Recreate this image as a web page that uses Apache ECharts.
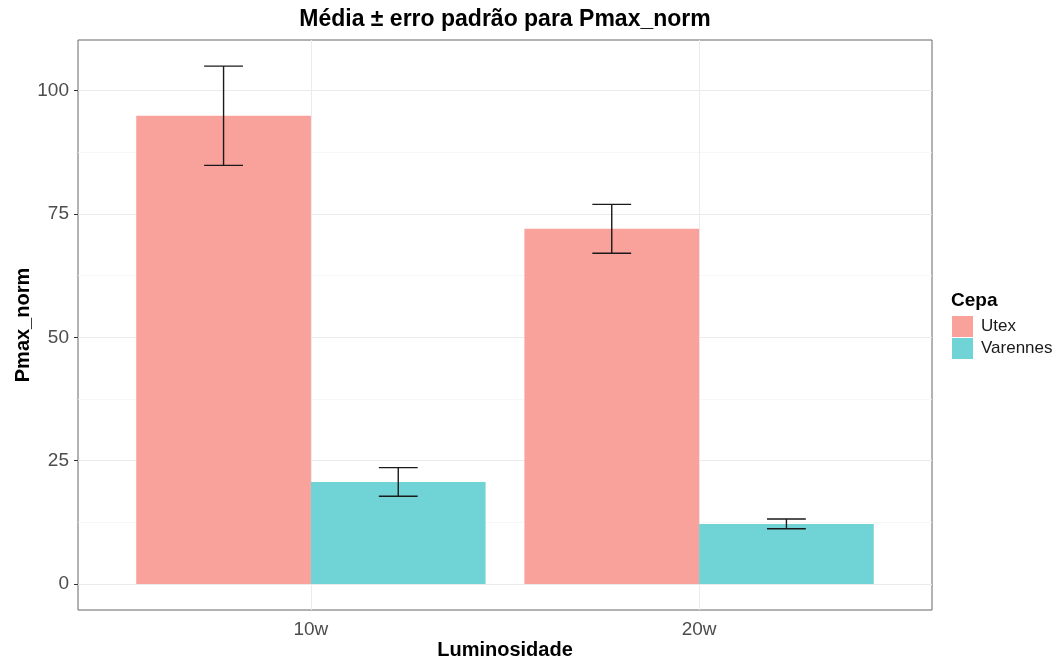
<!DOCTYPE html>
<html>
<head>
<meta charset="utf-8">
<script src="https://cdn.jsdelivr.net/npm/echarts@6/dist/echarts.min.js"></script>
<style>
  html, body { margin: 0; padding: 0; background: #fff; }
  #chart { width: 1060px; height: 661px; }
</style>
</head>
<body>
<div id="chart"></div>
<script>
// Luminosidade groups and Cepa (strain) series
const groups = ['10w', '20w'];
const cepas = ['Utex', 'Varennes'];
const utexMean = [94.9, 72.0];
const utexSe = [10.05, 4.95];
const varennesMean = [20.7, 12.2];
const varennesSe = [2.9, 1.0];
const yTicks = [0, 25, 50, 75, 100];
const yMinor = [12.5, 37.5, 62.5, 87.5];

const colors = { Utex: '#F9A19B', Varennes: '#70D3D6' };
const dodge = 0.225;   // half of dodge width 0.9
const capHalf = 0.05;
const font = 'Liberation Sans';

const chart = echarts.init(document.getElementById('chart'));

// bars are drawn from the axis scale, offset inside each group
const barItem = (offset) => (params, api) => {
  const x = api.value(0) + offset;
  const p1 = api.coord([x - dodge, api.value(1)]);
  const p2 = api.coord([x + dodge, 0]);
  return {
    type: 'rect',
    shape: { x: p1[0], y: p1[1], width: p2[0] - p1[0], height: p2[1] - p1[1] },
    style: { fill: api.visual('color') }
  };
};

const errItem = (offset) => (params, api) => {
  const x = api.value(0) + offset;
  const m = api.value(1), se = api.value(2);
  const top = api.coord([x, m + se]);
  const bot = api.coord([x, m - se]);
  const l = api.coord([x - capHalf, m])[0];
  const r = api.coord([x + capHalf, m])[0];
  const st = { stroke: '#1a1a1a', lineWidth: 1.4 };
  return {
    type: 'group',
    children: [
      { type: 'line', shape: { x1: top[0], y1: top[1], x2: bot[0], y2: bot[1] }, style: st },
      { type: 'line', shape: { x1: l, y1: top[1], x2: r, y2: top[1] }, style: st },
      { type: 'line', shape: { x1: l, y1: bot[1], x2: r, y2: bot[1] }, style: st }
    ]
  };
};

const gridLines = [
  ...yTicks.map(v => ({ yAxis: v, lineStyle: { color: '#ebebeb', width: 1, type: 'solid' } })),
  ...yMinor.map(v => ({ yAxis: v, lineStyle: { color: '#f3f3f3', width: 0.7, type: 'solid' } })),
  ...groups.map((g, i) => ({ xAxis: i + 1, lineStyle: { color: '#ebebeb', width: 1, type: 'solid' } }))
];

const option = {
  animation: false,
  title: [
    {
      text: 'Média ± erro padrão para Pmax_norm',
      left: 505, top: 8, padding: 0, textAlign: 'center',
      textStyle: { fontFamily: font, fontSize: 23, fontWeight: 'bold', color: '#000' }
    },
    {
      text: 'Cepa',
      left: 951, top: 291, padding: 0,
      textStyle: { fontFamily: font, fontSize: 19, fontWeight: 'bold', color: '#000' }
    }
  ],
  legend: {
    orient: 'vertical',
    left: 952, top: 316,
    padding: 0,
    itemWidth: 21, itemHeight: 21, itemGap: 1,
    data: cepas.map(c => ({ name: c, icon: 'rect' })),
    textStyle: { fontFamily: font, fontSize: 17, color: '#1a1a1a', padding: [0, 0, 0, 3] }
  },
  grid: {
    left: 78, right: 128, top: 40, bottom: 51,
    outerBoundsMode: 'none',
    show: true, borderColor: '#666', borderWidth: 1, backgroundColor: '#fff'
  },
  xAxis: {
    type: 'value',
    min: 0.4, max: 2.6,
    name: 'Luminosidade',
    nameLocation: 'middle', nameGap: 30,
    nameMoveOverlap: false,
    nameTextStyle: { fontFamily: font, fontSize: 20, fontWeight: 'bold', color: '#000' },
    axisLine: { show: false },
    splitLine: { show: false },
    axisTick: { show: true, length: 4, lineStyle: { color: '#333' }, customValues: groups.map((g, i) => i + 1) },
    axisLabel: {
      customValues: groups.map((g, i) => i + 1),
      formatter: v => groups[Math.round(v) - 1] || '',
      margin: 10,
      fontFamily: font, fontSize: 19, color: '#4d4d4d'
    }
  },
  yAxis: {
    type: 'value',
    min: -5.25, max: 110.25,
    name: 'Pmax_norm',
    nameLocation: 'middle', nameGap: 45,
    nameMoveOverlap: false,
    nameTextStyle: { fontFamily: font, fontSize: 20, fontWeight: 'bold', color: '#000' },
    axisLine: { show: false },
    splitLine: { show: false },
    axisTick: { show: true, length: 4, lineStyle: { color: '#333' }, customValues: yTicks },
    axisLabel: {
      customValues: yTicks,
      margin: 9,
      fontFamily: font, fontSize: 19, color: '#4d4d4d'
    }
  },
  series: [
    {
      name: 'grid',
      type: 'line',
      data: [],
      z: 0,
      markLine: { silent: true, z: 1, symbol: 'none', label: { show: false }, data: gridLines }
    },
    {
      name: 'Utex', type: 'custom', z: 2,
      itemStyle: { color: colors.Utex },
      encode: { x: 0, y: 1 },
      renderItem: barItem(-dodge),
      data: groups.map((g, i) => [i + 1, utexMean[i]])
    },
    {
      name: 'Varennes', type: 'custom', z: 2,
      itemStyle: { color: colors.Varennes },
      encode: { x: 0, y: 1 },
      renderItem: barItem(dodge),
      data: groups.map((g, i) => [i + 1, varennesMean[i]])
    },
    {
      name: 'errUtex', type: 'custom', z: 3,
      encode: { x: 0, y: 1 },
      renderItem: errItem(-dodge),
      data: groups.map((g, i) => [i + 1, utexMean[i], utexSe[i]])
    },
    {
      name: 'errVarennes', type: 'custom', z: 3,
      encode: { x: 0, y: 1 },
      renderItem: errItem(dodge),
      data: groups.map((g, i) => [i + 1, varennesMean[i], varennesSe[i]])
    }
  ]
};

chart.setOption(option);
</script>
</body>
</html>
